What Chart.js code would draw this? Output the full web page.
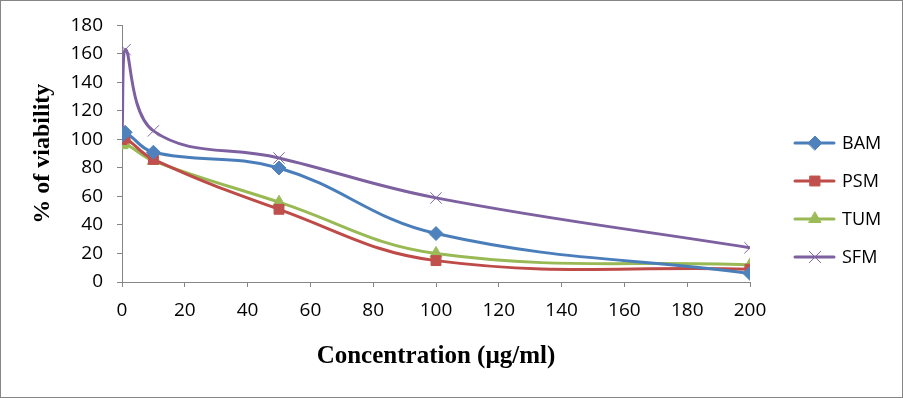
<!DOCTYPE html>
<html>
<head>
<meta charset="utf-8">
<script src="https://cdn.jsdelivr.net/npm/chart.js@4"></script>
<style>
  body { margin: 0; background: #fff; }
  #wrap { width: 903px; height: 398px; }
</style>
</head>
<body>
<div id="wrap"><canvas id="viability_chart" width="903" height="398"></canvas></div>
<script>
// concentrations (µg/ml)
var conc = [0, 1, 10, 50, 100, 200];
var bam = [103, 105, 91, 80, 34, 6];
var psm = [100, 101, 86, 51, 15, 9];
var tum = [96, 97, 85, 56, 20, 12];
var sfm = [99, 163, 106, 87, 59, 24];
var seriesNames = ["BAM", "PSM", "TUM", "SFM"];
var xTicks = [0, 20, 40, 60, 80, 100, 120, 140, 160, 180, 200];
var yTicks = [0, 20, 40, 60, 80, 100, 120, 140, 160, 180];

function pts(vals) {
    return conc.map(function (c, i) { return { x: c, y: vals[i] }; });
}

function makeSet(name, vals, line, fill, style, radius) {
    return {
        label: name,
        data: pts(vals),
        borderColor: line,
        borderWidth: 3,
        tension: 0.4,
        pointStyle: style,
        pointRadius: radius,
        pointBackgroundColor: fill,
        pointBorderColor: fill,
        pointBorderWidth: 1
    };
}

// legend drawn as line + marker like the original
var sideLegend = {
    id: 'sideLegend',
    afterDraw: function (chart) {
        var ctx = chart.ctx;
        var ys = [143, 181, 219, 257];
        chart.data.datasets.forEach(function (ds, i) {
            var y = ys[i];
            ctx.save();
            ctx.strokeStyle = ds.borderColor;
            ctx.lineWidth = 3;
            ctx.lineCap = 'round';
            ctx.beginPath();
            ctx.moveTo(795, y);
            ctx.lineTo(834, y);
            ctx.stroke();
            ctx.fillStyle = ds.pointBackgroundColor;
            ctx.strokeStyle = ds.pointBorderColor;
            ctx.lineWidth = ds.pointBorderWidth;
            Chart.helpers.drawPoint(ctx, { pointStyle: ds.pointStyle, radius: ds.pointRadius, borderWidth: ds.pointBorderWidth }, 815, y);
            ctx.fillStyle = '#000';
            ctx.font = '18px "Open Sans", sans-serif';
            ctx.textBaseline = 'middle';
            ctx.fillText(ds.label, 842, y + 1);
            ctx.restore();
        });
        ctx.save();
        ctx.strokeStyle = '#868686';
        ctx.lineWidth = 1;
        ctx.strokeRect(0.5, 0.5, 902, 397);
        ctx.restore();
    }
};

new Chart(document.getElementById("viability_chart").getContext("2d"), {
    type: 'line',
    data: {
        datasets: [
            makeSet(seriesNames[0], bam, '#4A7EBB', '#4F81BD', 'rectRot', 7),
            makeSet(seriesNames[1], psm, '#BE4B48', '#C0504D', 'rect', 7),
            makeSet(seriesNames[2], tum, '#98B954', '#9BBB59', 'triangle', 7),
            makeSet(seriesNames[3], sfm, '#7D60A0', '#8064A2', 'crossRot', 8)
        ]
    },
    options: {
        responsive: false,
        animation: false,
        layout: { padding: { left: 28, right: 153, top: 24, bottom: 26 } },
        plugins: { legend: { display: false }, tooltip: { enabled: false } },
        scales: {
            x: {
                type: 'linear',
                min: 0, max: 200,
                afterBuildTicks: function (s) { s.ticks = xTicks.map(function (v) { return { value: v }; }); },
                afterFit: function (s) { s.height = 90; },
                grid: { drawOnChartArea: false, color: '#868686', tickLength: 5 },
                border: { color: '#868686' },
                ticks: { color: '#000', padding: 12, maxRotation: 0, font: { family: 'Open Sans', size: 19 } },
                title: {
                    display: true, text: 'Concentration (µg/ml)', color: '#000',
                    font: { family: 'Liberation Serif', size: 25, weight: 'bold' },
                    padding: { top: 4, bottom: 0 }
                }
            },
            y: {
                min: 0, max: 180,
                afterBuildTicks: function (s) { s.ticks = yTicks.map(function (v) { return { value: v }; }); },
                afterFit: function (s) { s.width = 94; },
                grid: { drawOnChartArea: false, color: '#868686', tickLength: 5 },
                border: { color: '#868686' },
                ticks: { color: '#000', padding: 14, font: { family: 'Open Sans', size: 19 } },
                title: {
                    display: true, text: '% of viability', color: '#000',
                    font: { family: 'Liberation Serif', size: 24, weight: 'bold' },
                    padding: { top: 0, bottom: 4 }
                }
            }
        }
    },
    plugins: [sideLegend]
});
</script>
</body>
</html>
